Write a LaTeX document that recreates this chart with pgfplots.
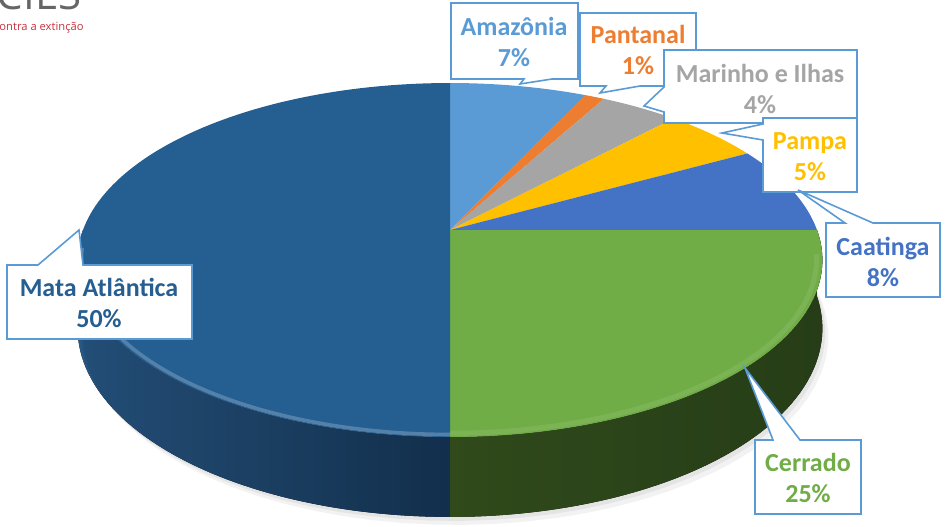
\documentclass[border=0pt]{standalone}
\usepackage{pgfplots}
\pgfplotsset{compat=1.18}
\usepgfplotslibrary{fillbetween}
\usepackage{fontspec}
\setmainfont{Carlito}
\newfontfamily\logofont{Open Sans}
\definecolor{cAmaz}{HTML}{5B9BD5}
\definecolor{cPant}{HTML}{ED7D31}
\definecolor{cMar}{HTML}{A5A5A5}
\definecolor{cPampa}{HTML}{FFC000}
\definecolor{cCaat}{HTML}{4472C4}
\definecolor{cCerr}{HTML}{70AD47}
\definecolor{cMata}{HTML}{255E91}
\definecolor{mataSideL}{HTML}{285886}
\definecolor{mataSideR}{HTML}{163656}
\definecolor{cerrSideL}{HTML}{36541F}
\definecolor{cerrSideR}{HTML}{2C451B}
\definecolor{boxblue}{HTML}{5B9BD5}
\definecolor{logored}{HTML}{C8313E}
% perspective pie: X(t), top Y(t), bottom Y(t)
\def\PX{{450+367*cos(\t)/(1+0.1695*sin(\t))}}
\def\PY{{230-171.9*sin(\t)/(1+0.1695*sin(\t))}}
\def\PB{{230-171.9*sin(\t)/(1+0.1695*sin(\t))+66.4/(1+0.1695*sin(\t))}}
\begin{document}
\begin{tikzpicture}
\begin{axis}[width=474pt, height=263pt, scale only axis,
  xmin=0, xmax=948, ymin=0, ymax=526, y dir=reverse,
  axis lines=none, clip=false]
% soft shadow
\addplot[fill=black, opacity=0.05, draw=none, domain=0:360, samples=90, variable=\t] ({450+367*cos(\t)/(1+0.1695*sin(\t))+6}, {230-171.9*sin(\t)/(1+0.1695*sin(\t))+66.4/(1+0.1695*sin(\t))+8}) -- cycle;
\addplot[fill=black, opacity=0.06, draw=none, domain=0:360, samples=90, variable=\t] ({450+367*cos(\t)/(1+0.1695*sin(\t))+3}, {230-171.9*sin(\t)/(1+0.1695*sin(\t))+66.4/(1+0.1695*sin(\t))+4}) -- cycle;
% sides (front half): Mata Atlantica 180-270, Cerrado 270-360
\addplot[name path=mt, draw=none, domain=180:270, samples=60, variable=\t] (\PX, \PY);
\addplot[name path=mb, draw=none, domain=180:270, samples=60, variable=\t] (\PX, \PB);
\addplot[left color=mataSideL, right color=mataSideR, draw=none] fill between[of=mt and mb];
\addplot[name path=ct, draw=none, domain=270:360, samples=60, variable=\t] (\PX, \PY);
\addplot[name path=cb, draw=none, domain=270:360, samples=60, variable=\t] (\PX, \PB);
\addplot[left color=cerrSideL, right color=cerrSideR, draw=none] fill between[of=ct and cb];
% top faces; values (percent): Amazonia 7, Pantanal 1, Marinho e Ilhas 4, Pampa 5, Caatinga 8, Cerrado 25, Mata Atlantica 50
% angle = 90 - 3.6*cumulative percent
\addplot[fill=cAmaz, draw=none, domain=64.8:90, samples=40, variable=\t] (\PX, \PY) -- (axis cs:450,230) -- cycle;
\addplot[fill=cPant, draw=none, domain=61.2:64.8, samples=10, variable=\t] (\PX, \PY) -- (axis cs:450,230) -- cycle;
\addplot[fill=cMar, draw=none, domain=46.8:61.2, samples=30, variable=\t] (\PX, \PY) -- (axis cs:450,230) -- cycle;
\addplot[fill=cPampa, draw=none, domain=28.8:46.8, samples=30, variable=\t] (\PX, \PY) -- (axis cs:450,230) -- cycle;
\addplot[fill=cCaat, draw=none, domain=0:28.8, samples=40, variable=\t] (\PX, \PY) -- (axis cs:450,230) -- cycle;
\addplot[fill=cCerr, draw=none, domain=-90:0, samples=80, variable=\t] (\PX, \PY) -- (axis cs:450,230) -- cycle;
\addplot[fill=cMata, draw=none, domain=90:270, samples=120, variable=\t] (\PX, \PY) -- (axis cs:450,230) -- cycle;
% rim highlights
\addplot[draw=white, opacity=0.22, line width=1.8pt, domain=186:270, samples=60, variable=\t] ({450+0.99*367*cos(\t)/(1+0.99*0.1695*sin(\t))}, {230-0.99*171.9*sin(\t)/(1+0.99*0.1695*sin(\t))});
\addplot[draw=white, opacity=0.08, line width=2.5pt, domain=270:352, samples=60, variable=\t] ({450+0.985*367*cos(\t)/(1+0.985*0.1695*sin(\t))}, {230-0.985*171.9*sin(\t)/(1+0.985*0.1695*sin(\t))});
% callouts
\tikzset{callout/.style={fill=white, draw=boxblue, line width=0.8pt, line join=miter}}
\draw[callout] (axis cs:451,3) -- (axis cs:578,3) -- (axis cs:578,79) -- (axis cs:552,79) -- (axis cs:520,84) -- (axis cs:524,79) -- (axis cs:451,79) -- cycle;
\draw[callout] (axis cs:580,13) -- (axis cs:696,13) -- (axis cs:696,86) -- (axis cs:640,86) -- (axis cs:600,93) -- (axis cs:606,86) -- (axis cs:580,86) -- cycle;
\draw[callout] (axis cs:664,50) -- (axis cs:857,50) -- (axis cs:857,123) -- (axis cs:664,123) -- (axis cs:664,112) -- (axis cs:644,106) -- (axis cs:664,87) -- cycle;
\draw[callout] (axis cs:763,118) -- (axis cs:857,118) -- (axis cs:857,192) -- (axis cs:763,192) -- (axis cs:763,140) -- (axis cs:722,133) -- (axis cs:763,124) -- cycle;
\draw[callout] (axis cs:826,223) -- (axis cs:845,223) -- (axis cs:798,190) -- (axis cs:873,223) -- (axis cs:940,223) -- (axis cs:940,297) -- (axis cs:826,297) -- cycle;
\draw[callout] (axis cs:7,265) -- (axis cs:38,265) -- (axis cs:79,230) -- (axis cs:83,265) -- (axis cs:192,265) -- (axis cs:192,339) -- (axis cs:7,339) -- cycle;
\draw[callout] (axis cs:755,440) -- (axis cs:773,440) -- (axis cs:745,368) -- (axis cs:800,440) -- (axis cs:861,440) -- (axis cs:861,514) -- (axis cs:755,514) -- cycle;
\tikzset{lab/.style={align=center, font=\bfseries\fontsize{13}{15.5}\selectfont, inner sep=0pt}}
\node[lab, text=cAmaz] at (axis cs:514,42) {Amazônia\\7\%};
\node[lab, text=cPant] at (axis cs:638,50) {Pantanal\\1\%};
\node[lab, text=cMar] at (axis cs:760,89) {Marinho e Ilhas\\4\%};
\node[lab, text=cPampa] at (axis cs:810,157) {Pampa\\5\%};
\node[lab, text=cCaat] at (axis cs:883,262) {Caatinga\\8\%};
\node[lab, text=cMata] at (axis cs:99,303) {Mata Atlântica\\50\%};
\node[lab, text=cCerr] at (axis cs:808,478) {Cerrado\\25\%};
% logo fragment
\node[anchor=base east, inner sep=0pt, text=black!60, font=\logofont\fontsize{21}{21}\selectfont] at (axis cs:82,10) {CIES};
\node[anchor=base east, inner sep=0pt, text=logored, font=\logofont\fontsize{5.6}{6}\selectfont] at (axis cs:84,31) {ontra a extinção};
\end{axis}
\pgfresetboundingbox
\path[use as bounding box] (current axis.south west) rectangle (current axis.north east);
\end{tikzpicture}
\end{document}
